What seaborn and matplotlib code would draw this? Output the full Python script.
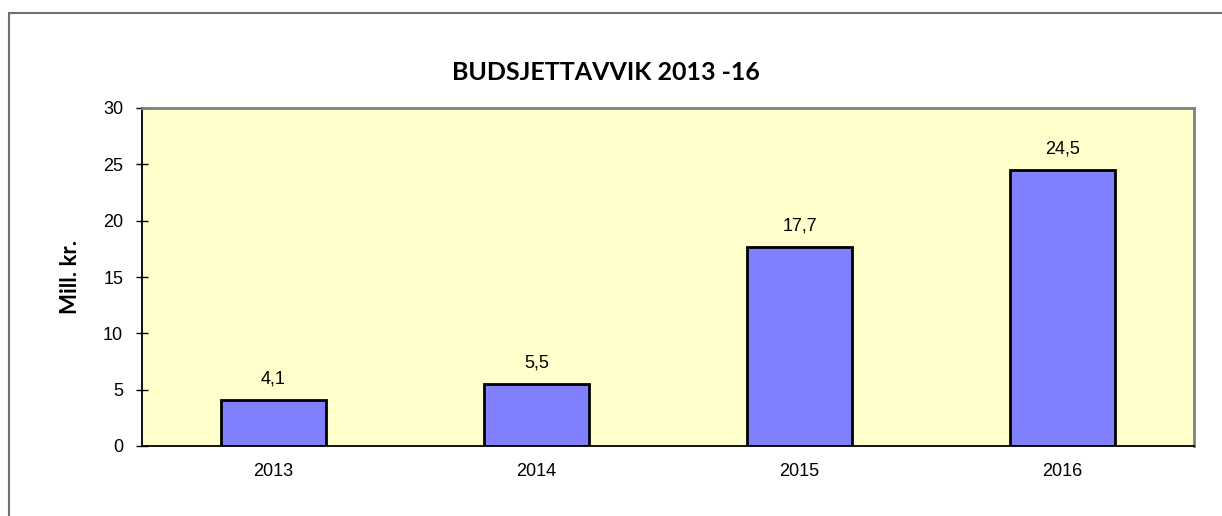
import matplotlib
matplotlib.use("Agg")
import matplotlib.pyplot as plt
import seaborn as sns
import pandas as pd
from matplotlib.patches import Rectangle

# data
years = ["2013", "2014", "2015", "2016"]
deviation = [4.1, 5.5, 17.7, 24.5]
yticks = [0, 5, 10, 15, 20, 25, 30]

df = pd.DataFrame({"year": years, "value": deviation})

sns.set_style("white")
plt.rcParams["font.family"] = ["Liberation Sans", "DejaVu Sans"]
plt.rcParams["text.color"] = "black"
plt.rcParams["xtick.color"] = "black"
plt.rcParams["ytick.color"] = "black"
plt.rcParams["axes.labelcolor"] = "black"

fig = plt.figure(figsize=(12.22, 5.16), dpi=100)
ax = fig.add_axes([142 / 1222, 70 / 516, 1052 / 1222, 338 / 516])

sns.barplot(data=df, x="year", y="value", order=years, color="#8080FF",
            saturation=1, width=0.4, edgecolor="black", linewidth=2, ax=ax)

ax.set_facecolor("#FFFFCC")
ax.set_xlim(-0.5, len(years) - 0.5)
ax.set_ylim(0, 30)
ax.set_yticks(yticks)
ax.set_yticklabels([str(t) for t in yticks], fontsize=13)
ax.set_xticks(range(len(years)))
ax.set_xticklabels(years, fontsize=13)
ax.set_xticks([i - 0.5 for i in range(len(years) + 1)], minor=True)
ax.tick_params(axis="x", which="major", length=0, pad=12)
ax.tick_params(axis="x", which="minor", length=9, width=1, direction="inout", color="black")
ax.tick_params(axis="y", length=9, width=1, direction="inout", color="black", pad=9, left=True)

for side in ["left", "bottom"]:
    ax.spines[side].set_color("black")
    ax.spines[side].set_linewidth(1.3)
for side in ["top", "right"]:
    ax.spines[side].set_color("#808080")
    ax.spines[side].set_linewidth(2)
    ax.spines[side].set_visible(True)

ax.set_xlabel("")
ax.set_ylabel("Mill. kr.", fontsize=16, fontweight="bold", family=["Lato", "DejaVu Sans"],
              labelpad=16)

ax.bar_label(ax.containers[0], labels=[f"{v:.1f}".replace(".", ",") for v in deviation],
             padding=9, fontsize=13)

fig.text(606, 516 - 72, "BUDSJETTAVVIK 2013 -16", transform=None, ha="center", va="center",
         fontsize=18, fontweight="bold", family=["Lato", "DejaVu Sans"])

# outer chart border
fig.patches.append(Rectangle((9 / 1222, -0.05), 1.1, (516 - 13) / 516 + 0.05,
                             transform=fig.transFigure, fill=False,
                             edgecolor="#707070", linewidth=1.5))

fig.savefig("out.png", dpi=100)
